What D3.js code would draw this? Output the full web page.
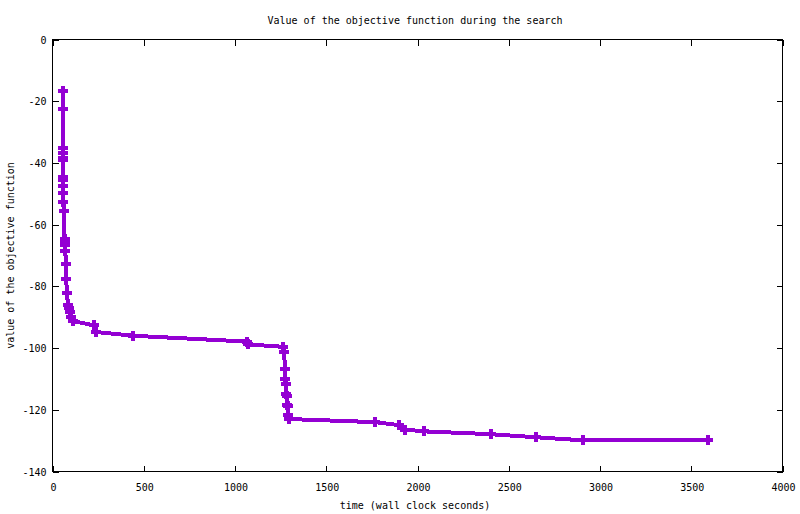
<!DOCTYPE html>
<html>
<head>
<meta charset="utf-8">
<script src="https://cdn.jsdelivr.net/npm/d3@7"></script>
<style>
  html, body { margin: 0; padding: 0; background: #fff; }
  svg { display: block; }
  text { font-family: "DejaVu Sans Mono", "Liberation Mono", monospace; font-size: 10px; fill: #000; }
</style>
</head>
<body>
<svg id="chart" width="800" height="514"></svg>
<script>
// time (wall clock seconds)
const times = [56, 56, 56, 57, 58, 57, 57, 58, 59, 59, 60, 62, 66, 67, 68, 70, 74, 76, 78, 86, 90, 96, 104, 110,
  225, 240, 441, 1065, 1070, 1265, 1270, 1273, 1275, 1277, 1280, 1283, 1286, 1288, 1292, 1298,
  1766, 1900, 1930, 2038, 2400, 2648, 2909, 3590];
// value of the objective function
const values = [-16.7, -22.6, -35.3, -36.8, -38.3, -39.2, -44.6, -45.6, -47.4, -49.8, -52.7, -55.5, -64.8, -65.7, -66.7, -68.6, -72.7, -77.7, -82.1, -86.1, -86.9, -88.3, -90.0, -91.2,
  -92.6, -94.8, -96.0, -97.9, -98.8, -99.6, -101.4, -106.9, -109.9, -111.6, -114.8, -115.6, -118.3, -118.9, -121.8, -123.0,
  -124.0, -125.0, -126.4, -127.0, -127.9, -128.9, -129.9, -129.9];
const xTicks = [0, 500, 1000, 1500, 2000, 2500, 3000, 3500, 4000];
const yTicks = [0, -20, -40, -60, -80, -100, -120, -140];
const titleText = "Value of the objective function during the search";
const xLabelText = "time (wall clock seconds)";
const yLabelText = "value of the objective function";

const data = times.map((t, i) => ({ t, v: values[i] }));

const svg = d3.select("#chart");
const L = 52.5, R = 782.5, T = 39.5, B = 471.5;
const x = d3.scaleLinear().domain([0, 4000]).range([L, R]);
const y = d3.scaleLinear().domain([-140, 0]).range([B, T]);
const color = "#9400d3";
const tick = 6;

// tick marks (inside, mirrored)
const g = svg.append("g").attr("shape-rendering", "crispEdges").attr("stroke", "#000").attr("stroke-width", 1);
xTicks.forEach(d => {
  const px = Math.round(x(d)) + 0.5;
  g.append("line").attr("x1", px).attr("x2", px).attr("y1", B).attr("y2", B - tick);
  g.append("line").attr("x1", px).attr("x2", px).attr("y1", T).attr("y2", T + tick);
});
yTicks.forEach(d => {
  const py = Math.round(y(d)) + 0.5;
  g.append("line").attr("x1", L).attr("x2", L + tick).attr("y1", py).attr("y2", py);
  g.append("line").attr("x1", R).attr("x2", R - tick).attr("y1", py).attr("y2", py);
});

// tick labels
svg.append("g").selectAll("text").data(xTicks).join("text")
  .attr("x", d => x(d) + 1).attr("y", B + 19)
  .attr("text-anchor", "middle").text(d => d);
svg.append("g").selectAll("text").data(yTicks).join("text")
  .attr("x", L - 6).attr("y", d => y(d) + 4)
  .attr("text-anchor", "end").text(d => d);

// series
const line = d3.line().x(d => x(d.t)).y(d => y(d.v));
svg.append("path").datum(data)
  .attr("d", line)
  .attr("fill", "none")
  .attr("stroke", color)
  .attr("stroke-width", 4)
  .attr("stroke-linejoin", "round")
  .attr("shape-rendering", "crispEdges");

const s = 5;
svg.append("g").selectAll("path").data(data).join("path")
  .attr("d", d => {
    const cx = x(d.t), cy = y(d.v);
    return `M${cx - s},${cy}H${cx + s}M${cx},${cy - s}V${cy + s}`;
  })
  .attr("stroke", color)
  .attr("stroke-width", 4)
  .attr("fill", "none")
  .attr("shape-rendering", "crispEdges");

// border
svg.append("rect")
  .attr("x", L).attr("y", T).attr("width", R - L).attr("height", B - T)
  .attr("fill", "none").attr("stroke", "#000").attr("stroke-width", 1)
  .attr("shape-rendering", "crispEdges");

// titles
svg.append("text").attr("x", 415).attr("y", 24).attr("text-anchor", "middle").text(titleText);
svg.append("text").attr("x", 415).attr("y", 509).attr("text-anchor", "middle").text(xLabelText);
svg.append("text").attr("transform", `translate(14,${(T + B) / 2}) rotate(-90)`)
  .attr("text-anchor", "middle").text(yLabelText);
</script>
</body>
</html>
